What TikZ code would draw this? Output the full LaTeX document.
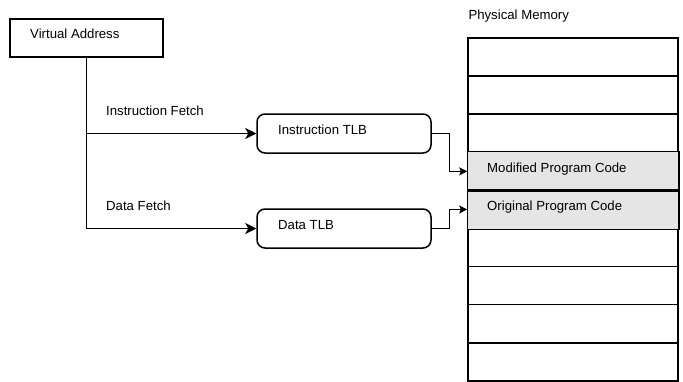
\documentclass[tikz,border=0pt]{standalone}
\usepackage{fontspec}
\setmainfont{Liberation Sans}
\usetikzlibrary{arrows.meta}
\begin{document}
\begin{tikzpicture}[x=1pt,y=-1pt,
  box/.style={draw=black,line width=1.5pt,inner sep=0pt,minimum width=153pt,minimum height=38pt},
  tlb/.style={draw=black,line width=1.5pt,rounded corners=8pt,inner sep=0pt,minimum width=174pt,minimum height=39pt},
  memrow/.style={draw=black,line width=1.5pt,inner sep=0pt,minimum width=210pt,minimum height=38.1pt},
  lbl/.style={anchor=base west,inner sep=0pt,font=\fontsize{13.2}{15}\selectfont},
  bigarrow/.style={line width=1.5pt,-{Stealth[length=11pt,width=11pt,inset=3pt]}},
  smallarrow/.style={line width=1.3pt,-{Stealth[length=8pt,width=8pt,inset=1.5pt]}}]
\useasboundingbox (0,0) rectangle (683,381);
% virtual address
\node[box] (va) at (86.5,38) {};
\node[lbl] (vat) at (30,38.3) {Virtual Address};
% TLBs
\node[tlb] (itlb) at (344,133.5) {};
\node[lbl] (itlbt) at (278,134.3) {Instruction TLB};
\node[tlb] (dtlb) at (344,228.5) {};
\node[lbl] (dtlbt) at (278,229.3) {Data TLB};
% memory
\foreach \i in {1,...,9}{
  \node[memrow] (m\i) at (573,{38+(\i-0.5)*38.1}) {};
}
\fill[black!10] ([shift={(0.75,0.75)}]m4.north west) rectangle ([shift={(-0.75,-0.75)}]m5.south east);
\draw[line width=1.5pt] (m4.north west) rectangle (m4.south east);
\draw[line width=1.5pt] (m5.north west) rectangle (m5.south east);
\node[lbl] (mpc) at (487,172.7) {Modified Program Code};
\node[lbl] (opc) at (487,210.7) {Original Program Code};
\node[lbl] (pm) at (468.3,19.3) {Physical Memory};
% labels
\node[lbl] (ifl) at (106,115) {Instruction Fetch};
\node[lbl] (dfl) at (106,210) {Data Fetch};
% connectors
\coordinate (br) at (va.south |- itlb.west);
\draw[bigarrow] (va.south) -- (va.south |- dtlb.west) -- (dtlb.west);
\draw[bigarrow] (br) -- (itlb.west);
\draw[smallarrow] (itlb.east) -- ++(18,0) |- (m4.west);
\draw[smallarrow] (dtlb.east) -- ++(18,0) |- (m5.west);
\end{tikzpicture}
\end{document}
